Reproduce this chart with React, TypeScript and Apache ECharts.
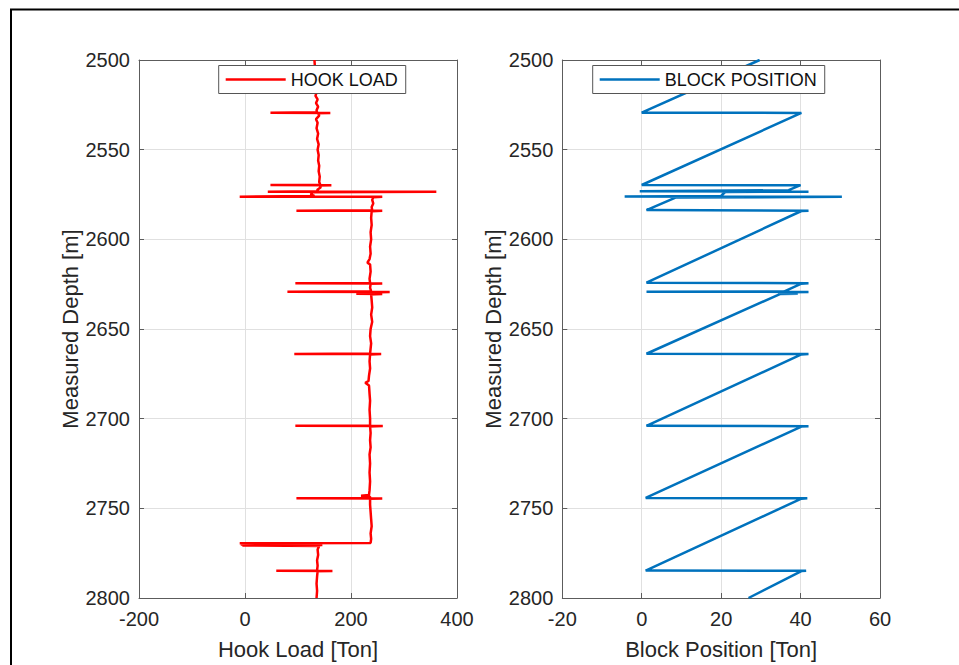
import React, { useEffect, useRef } from "react";
import * as echarts from "echarts";

// ---- Data ----
const depthTicks = [2500, 2550, 2600, 2650, 2700, 2750, 2800];
const hookTicks = [-200, 0, 200, 400];
const blockTicks = [-20, 0, 20, 40, 60];

const hookDepth = [
  2500, 2504, 2508, 2512, 2515, 2518, 2520, 2522, 2524, 2526, 2528,
  2529.2, 2529.4, 2529.5, 2529.7, 2531, 2533, 2535, 2538, 2541, 2544, 2547,
  2550, 2553, 2556, 2559, 2562, 2565, 2568, 2569.5, 2569.7, 2569.8, 2570,
  2571, 2572.5, 2573.2, 2573.4, 2573.5, 2573.7, 2575, 2575.8, 2576.2, 2576.3,
  2576.6, 2578, 2580, 2582, 2583.8, 2584, 2584.1, 2584.3, 2588, 2592, 2596,
  2600, 2604, 2608, 2611, 2613, 2614, 2618, 2622, 2624.3, 2624.5, 2624.6,
  2624.8, 2627, 2629, 2629.2, 2629.3, 2629.6, 2629.9, 2630.1, 2630.3, 2630.5,
  2630.7, 2634, 2638, 2642, 2646, 2650, 2654, 2658, 2663.7, 2663.9, 2664,
  2664.2, 2668, 2672, 2676, 2679, 2680, 2681.5, 2686, 2690, 2695, 2700,
  2703.8, 2704, 2704.1, 2704.3, 2708, 2712, 2716, 2720, 2725, 2730, 2735,
  2740, 2742.5, 2743, 2743.5, 2744.2, 2744.4, 2744.5, 2744.7, 2748, 2752,
  2756, 2760, 2764, 2767, 2769.3, 2769.5, 2769.8, 2770.1, 2770.4, 2770.7,
  2771, 2773, 2776, 2779, 2782, 2784.6, 2784.8, 2784.9, 2785.1, 2788, 2792,
  2796, 2800,
];
const hookLoad = [
  131, 132, 131, 133, 132, 135, 133, 137, 134, 138, 135,
  136, 48, 161, 138, 140, 134, 137, 135, 138, 136, 139,
  137, 139, 138, 140, 139, 141, 140, 142, 48, 163, 141,
  143, 136, 138, 43, 361, 128, 124, 131, -10, 259,
  242, 240, 242, 239, 240, 97, 259, 239, 238, 239, 237,
  238, 236, 237, 235, 231, 236, 237, 235, 236, 95, 259,
  237, 236, 238, 80, 273, 240, 210, 259, 210, 259,
  238, 239, 240, 238, 240, 237, 236, 238, 236, 93, 257,
  236, 235, 236, 234, 233, 227, 234, 235, 236, 235, 236,
  236, 95, 260, 236, 237, 236, 237, 235, 236, 235, 236,
  235, 234, 219, 236, 236, 97, 259, 236, 236, 237,
  238, 239, 237, 238, 237, -10, 146, -8, 146, -5,
  140, 137, 138, 136, 137, 136, 59, 165, 137, 136, 135,
  136, 135,
];

const blockDepth = [
  2500, 2529.4, 2529.5, 2569.7, 2569.8, 2572.6, 2573.2, 2573.4, 2573.6,
  2575.8, 2576.1, 2576.3, 2576.7, 2583.7, 2584, 2584.2, 2624.2, 2624.5,
  2624.7, 2629.1, 2629.2, 2629.3, 2629.6, 2629.9, 2630.1, 2630.3, 2630.5,
  2663.8, 2664, 2664.2, 2704, 2704.2, 2704.4, 2744.2, 2744.4, 2744.6,
  2784.7, 2784.8, 2785, 2800,
];
const blockPos = [
  29.7, 0, 40.2, 0, 40, 37, -0.5, 42, 21,
  20, -4.3, 50.4, 8.5, 1.2, 42, 40.2, 1.2, 42,
  40.2, 35.8, 1.2, 42, 35.5, 39.3, 34.3, 39.3, 34.8,
  1.2, 42, 40.2, 1.2, 42, 40.2, 1.0, 41.7, 40.2,
  1.0, 41.4, 40.2, 26.9,
];

const FONT = "Liberation Sans, Arial, Helvetica, sans-serif";
const TXT = "#262626";
const AXC = "#5c5c5c";
const GRIDC = "#e0e0e0";
const plain = (v: number) => String(v);

function xAxes(gridIndex: number, ticks: number[], name: string) {
  const min = ticks[0];
  const max = ticks[ticks.length - 1];
  const interval = ticks[1] - ticks[0];
  const common = {
    gridIndex,
    type: "value",
    min,
    max,
    interval,
    axisLine: { show: true, onZero: false, lineStyle: { color: AXC, width: 1 } },
    axisTick: { show: true, inside: true, length: 5, lineStyle: { color: AXC } },
  };
  return [
    {
      ...common,
      position: "bottom",
      name,
      nameLocation: "middle",
      nameGap: 40,
      nameTextStyle: { fontSize: 22, color: TXT, fontFamily: FONT },
      axisLabel: { fontSize: 20, color: TXT, fontFamily: FONT, margin: 11, formatter: plain },
      splitLine: { show: true, lineStyle: { color: GRIDC, width: 1 } },
    },
    {
      ...common,
      position: "top",
      axisLabel: { show: false },
      splitLine: { show: false },
    },
  ];
}

function yAxes(gridIndex: number) {
  const min = depthTicks[0];
  const max = depthTicks[depthTicks.length - 1];
  const interval = depthTicks[1] - depthTicks[0];
  const common = {
    gridIndex,
    type: "value",
    inverse: true,
    min,
    max,
    interval,
    axisLine: { show: true, onZero: false, lineStyle: { color: AXC, width: 1 } },
    axisTick: { show: true, inside: true, length: 5, lineStyle: { color: AXC } },
  };
  return [
    {
      ...common,
      position: "left",
      name: "Measured Depth [m]",
      nameLocation: "middle",
      nameGap: 57,
      nameTextStyle: { fontSize: 22, color: TXT, fontFamily: FONT },
      axisLabel: { fontSize: 20, color: TXT, fontFamily: FONT, margin: 9, formatter: plain },
      splitLine: { show: true, lineStyle: { color: GRIDC, width: 1 } },
    },
    {
      ...common,
      position: "right",
      axisLabel: { show: false },
      splitLine: { show: false },
    },
  ];
}

function legendFor(name: string, left: number, color: string) {
  return {
    data: [{ name, icon: "rect", itemStyle: { color } }],
    left,
    top: 65.5,
    orient: "horizontal",
    backgroundColor: "#ffffff",
    borderColor: "#555555",
    borderWidth: 1,
    borderRadius: 0,
    padding: [5, 8, 5, 7],
    itemWidth: 60,
    itemHeight: 2.5,
    textStyle: { fontSize: 18, color: "#111111", fontFamily: FONT },
  };
}

export default function App() {
  const ref = useRef<HTMLDivElement>(null);
  useEffect(() => {
    if (!ref.current) return;
    const chart = echarts.init(ref.current, undefined, { renderer: "svg" });
    const hookData = hookDepth.map((d, i) => [hookLoad[i], d]);
    const blockData = blockDepth.map((d, i) => [blockPos[i], d]);
    chart.setOption({
      animation: false,
      backgroundColor: "#ffffff",
      textStyle: { fontFamily: FONT },
      grid: [
        { left: 139, top: 60, width: 318, height: 538 },
        { left: 562.3, top: 60, width: 317.7, height: 538 },
      ],
      xAxis: [
        ...xAxes(0, hookTicks, "Hook Load [Ton]"),
        ...xAxes(1, blockTicks, "Block Position [Ton]"),
      ],
      yAxis: [...yAxes(0), ...yAxes(1)],
      legend: [
        legendFor("HOOK LOAD", 218.7, "#ff0000"),
        legendFor("BLOCK POSITION", 592.7, "#0072bd"),
      ],
      series: [
        {
          name: "HOOK LOAD",
          type: "line",
          xAxisIndex: 0,
          yAxisIndex: 0,
          data: hookData,
          showSymbol: false,
          symbol: "none",
          lineStyle: { color: "#ff0000", width: 2.5 },
          itemStyle: { color: "#ff0000" },
          clip: true,
        },
        {
          name: "BLOCK POSITION",
          type: "line",
          xAxisIndex: 2,
          yAxisIndex: 2,
          data: blockData,
          showSymbol: false,
          symbol: "none",
          lineStyle: { color: "#0072bd", width: 2.5 },
          itemStyle: { color: "#0072bd" },
          clip: true,
        },
      ],
      graphic: [
        {
          type: "rect",
          shape: { x: 11, y: 9.5, width: 2000, height: 2000 },
          style: { fill: "none", stroke: "#000000", lineWidth: 2 },
          silent: true,
        },
      ],
    });
    return () => chart.dispose();
  }, []);
  return (
    <div
      ref={ref}
      style={{ position: "fixed", left: 0, top: 0, width: 959, height: 665, background: "#fff" }}
    />
  );
}
